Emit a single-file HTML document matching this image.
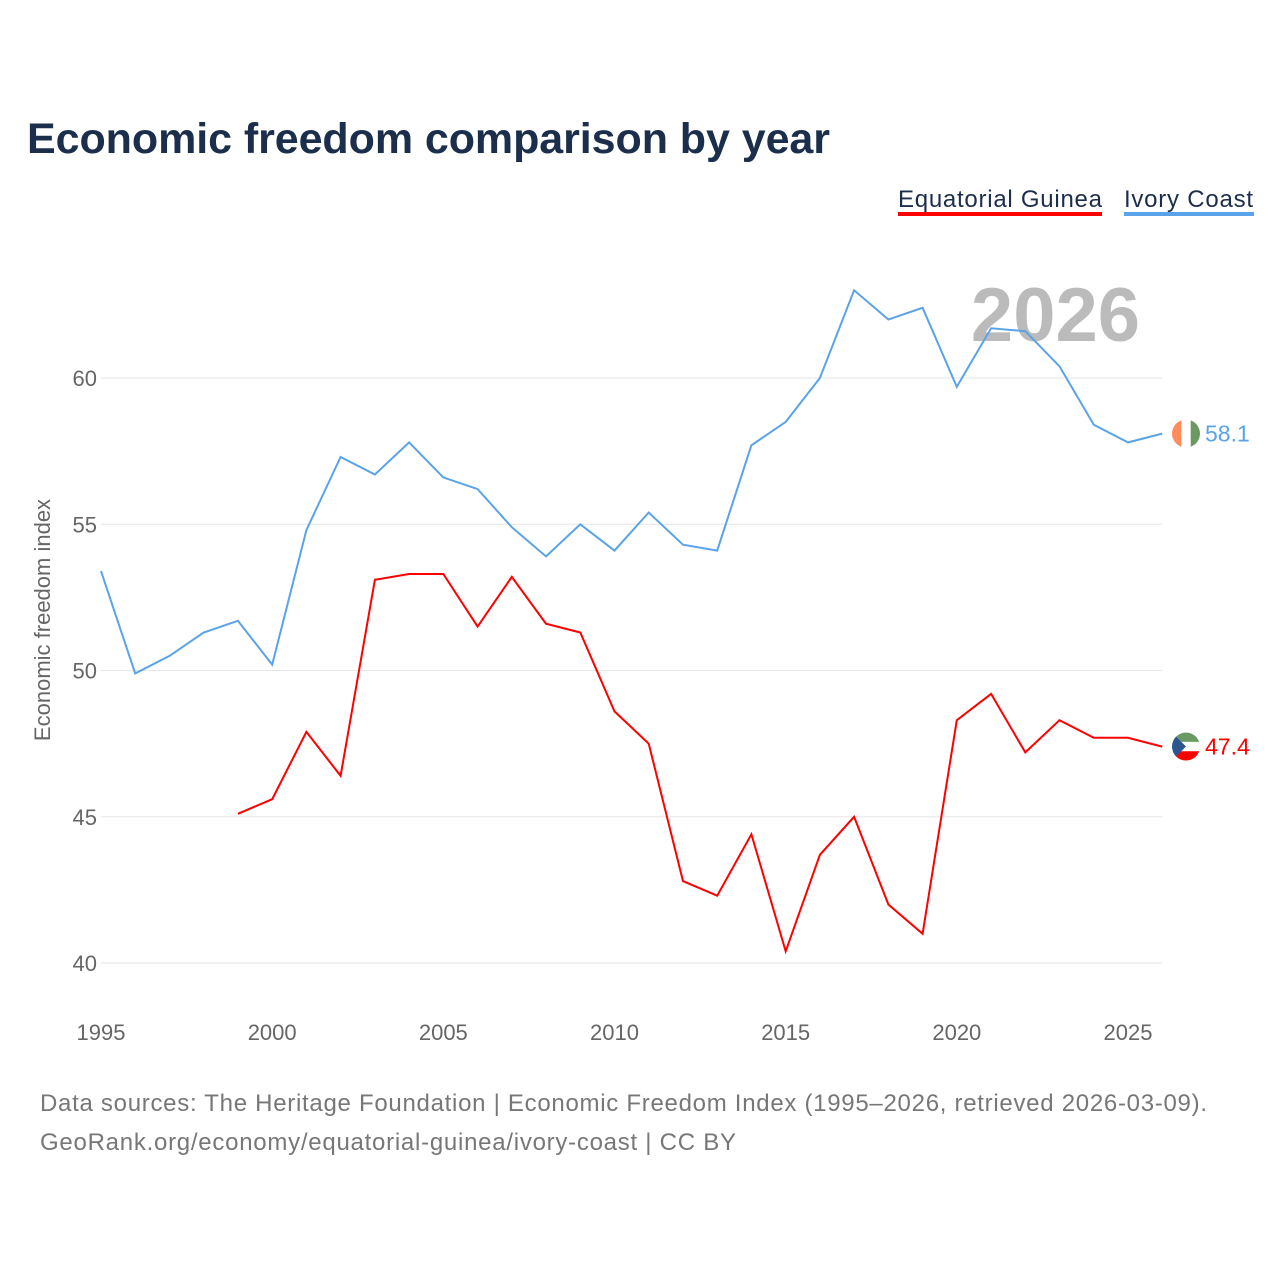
<!DOCTYPE html>
<html><head><meta charset="utf-8">
<style>
body{margin:0;background:#fff;font-family:"Liberation Sans",sans-serif;}
svg text{font-family:"Liberation Sans",sans-serif;}
</style></head>
<body>
<svg id="chart" width="1280" height="1280" viewBox="0 0 1280 1280">
<defs id="defs"></defs>
<text x="27" y="153" font-size="43" font-weight="bold" fill="#1b2e4b" textLength="803">Economic freedom comparison by year</text>
<g>
<text x="898" y="207" font-size="24" fill="#1b2e4b" textLength="204">Equatorial Guinea</text>
<rect x="898" y="212" width="204" height="4" fill="#f00"/>
</g>
<g>
<text x="1124" y="207" font-size="24" fill="#1b2e4b" textLength="129">Ivory Coast</text>
<rect x="1124" y="212" width="130" height="4" fill="#5ba3e8"/>
</g>
<text x="1140" y="341" font-size="76" font-weight="bold" fill="#bbb" text-anchor="end">2026</text>
<g id="grid"></g>
<g id="xticks"></g>
<text transform="translate(50,620) rotate(-90)" font-size="22" fill="#666" text-anchor="middle">Economic freedom index</text>
<g id="series"></g>
<text x="40" y="1111" font-size="24" fill="#777" textLength="1167">Data sources: The Heritage Foundation | Economic Freedom Index (1995–2026, retrieved 2026-03-09).</text>
<text x="40" y="1150" font-size="24" fill="#777" textLength="696">GeoRank.org/economy/equatorial-guinea/ivory-coast | CC BY</text>
</svg>
<script>
const years=[1995,1996,1997,1998,1999,2000,2001,2002,2003,2004,2005,2006,2007,2008,2009,2010,2011,2012,2013,2014,2015,2016,2017,2018,2019,2020,2021,2022,2023,2024,2025,2026];
const ivoryCoast=[53.4,49.9,50.5,51.3,51.7,50.2,54.8,57.3,56.7,57.8,56.6,56.2,54.9,53.9,55.0,54.1,55.4,54.3,54.1,57.7,58.5,60.0,63.0,62.0,62.4,59.7,61.7,61.6,60.4,58.4,57.8,58.1];
const eqGuinea=[null,null,null,null,45.1,45.6,47.9,46.4,53.1,53.3,53.3,51.5,53.2,51.6,51.3,48.6,47.5,42.8,42.3,44.4,40.4,43.7,45.0,42.0,41.0,48.3,49.2,47.2,48.3,47.7,47.7,47.4];
const yTicks=[40,45,50,55,60];
const xTicks=[1995,2000,2005,2010,2015,2020,2025];
const NS="http://www.w3.org/2000/svg";
const xS=y=>101+(y-1995)*(1128-101)/30;
const yS=v=>963-(v-40)*(963-378)/20;
function mk(t,a,p){const e=document.createElementNS(NS,t);for(const k in a)e.setAttribute(k,a[k]);p.appendChild(e);return e;}
const grid=document.getElementById('grid');
yTicks.forEach(v=>{
 const l=mk('line',{x1:101,x2:1162,y1:yS(v),y2:yS(v),stroke:'#e6e6e6','stroke-width':1},grid);
 
 
 const t=mk('text',{x:97,y:yS(v)+8,'font-size':22,fill:'#666','text-anchor':'end'},grid);
 t.textContent=v;
 
 
});
const xt=document.getElementById('xticks');
xTicks.forEach(y=>{
 const t=mk('text',{x:xS(y),y:1040,'font-size':22,fill:'#666','text-anchor':'middle'},xt);
 t.textContent=y;
 
 
});
const sg=document.getElementById('series');
const defs=document.getElementById('defs');
function line(vals,color,name){
 const pts=[];vals.forEach((v,i)=>{if(v!=null)pts.push(xS(years[i]).toFixed(1)+','+yS(v).toFixed(1));});
 const p=mk('polyline',{points:pts.join(' '),fill:'none',stroke:color,'stroke-width':2},sg);
 
 
 const last=vals[vals.length-1];
 const cy=yS(last);
 const cp=mk('clipPath',{id:'clip-'+name},defs);
 mk('circle',{cx:1186,cy:cy,r:14},cp);
 const g=mk('g',{'clip-path':'url(#clip-'+name+')'},sg);
 
 
 mk('circle',{cx:1186,cy:cy,r:14,fill:'#fff'},g);
 if(name==='ivory-coast'){
  mk('rect',{x:1172,y:cy-14,width:9.3,height:28,fill:'#ff8c5a'},g);
  mk('rect',{x:1190.7,y:cy-14,width:9.3,height:28,fill:'#6a9a62'},g);
 } else {
  mk('rect',{x:1172,y:cy-14,width:28,height:9.3,fill:'#6a9a62'},g);
  mk('rect',{x:1172,y:cy+4.7,width:28,height:9.3,fill:'#f00'},g);
  mk('polygon',{points:`1172,${cy-14} 1186,${cy} 1172,${cy+14}`,fill:'#2e5590'},g);
 }
 const t=mk('text',{x:1205,y:cy+8,'font-size':23,fill:color},sg);
 t.textContent=last.toFixed(1);
 
 
}
line(ivoryCoast,'#5ba3e8','ivory-coast');
line(eqGuinea,'#f00','equatorial-guinea');
</script>
</body></html>
